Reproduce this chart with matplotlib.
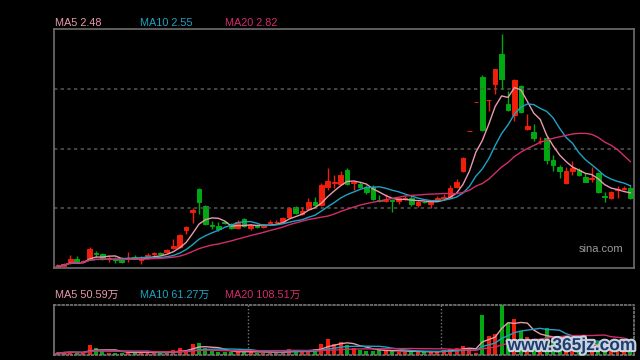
import numpy as np
import pandas as pd
import matplotlib
matplotlib.use("Agg")
from matplotlib import pyplot as plt
from matplotlib import patheffects

plt.rcParams["font.family"] = ["Liberation Sans", "Noto Sans CJK SC", "DejaVu Sans"]

# daily candles (price, yuan)
opens = [1.66, 1.67, 1.71, 1.75, 1.72, 1.75, 1.81, 1.80, 1.75, 1.75,
         1.76, 1.75, 1.77, 1.74, 1.76, 1.80, 1.81, 1.83, 1.87, 1.88,
         2.07, 2.26, 2.52, 2.33, 2.12, 2.11, 2.15, 2.13, 2.09, 2.19,
         2.09, 2.12, 2.10, 2.14, 2.15, 2.16, 2.21, 2.32, 2.24, 2.30,
         2.38, 2.34, 2.54, 2.58, 2.57, 2.73, 2.58, 2.57, 2.54, 2.54,
         2.40, 2.39, 2.40, 2.39, 2.41, 2.42, 2.34, 2.38, 2.35, 2.40,
         2.42, 2.43, 2.54, 2.71, 3.15, 3.47, 3.75, 3.49, 3.67, 4.00,
         3.45, 3.33, 3.65, 3.18, 3.14, 3.04, 3.08, 2.84, 2.76, 2.58,
         2.72, 2.73, 2.65, 2.63, 2.69, 2.44, 2.42, 2.51, 2.52, 2.53]
highs = [1.69, 1.70, 1.79, 1.78, 1.74, 1.88, 1.84, 1.81, 1.78, 1.77,
         1.77, 1.83, 1.79, 1.78, 1.81, 1.83, 1.83, 1.86, 1.97, 2.02,
         2.11, 2.31, 2.53, 2.34, 2.17, 2.16, 2.17, 2.14, 2.18, 2.20,
         2.13, 2.13, 2.13, 2.18, 2.18, 2.21, 2.32, 2.33, 2.32, 2.42,
         2.43, 2.58, 2.75, 2.67, 2.72, 2.75, 2.61, 2.60, 2.56, 2.56,
         2.45, 2.46, 2.41, 2.43, 2.44, 2.45, 2.39, 2.39, 2.39, 2.44,
         2.46, 2.56, 2.63, 2.87, 3.15, 3.47, 3.77, 3.49, 3.84, 4.22,
         3.59, 3.73, 3.66, 3.34, 3.23, 3.09, 3.09, 2.89, 2.78, 2.76,
         2.83, 2.75, 2.69, 2.76, 2.70, 2.48, 2.50, 2.55, 2.55, 2.56]
lows = [1.65, 1.66, 1.69, 1.70, 1.71, 1.74, 1.77, 1.74, 1.72, 1.71,
        1.71, 1.72, 1.75, 1.69, 1.75, 1.78, 1.79, 1.82, 1.86, 1.87,
        2.02, 2.14, 2.24, 2.12, 2.08, 2.06, 2.13, 2.08, 2.08, 2.10,
        2.07, 2.09, 2.09, 2.13, 2.14, 2.15, 2.20, 2.24, 2.23, 2.29,
        2.33, 2.33, 2.51, 2.53, 2.56, 2.56, 2.51, 2.53, 2.46, 2.40,
        2.38, 2.37, 2.26, 2.35, 2.40, 2.33, 2.32, 2.36, 2.31, 2.39,
        2.40, 2.42, 2.53, 2.70, 3.15, 3.47, 3.16, 3.37, 3.56, 3.62,
        3.37, 3.26, 3.35, 3.17, 3.04, 3.01, 2.79, 2.72, 2.64, 2.57,
        2.67, 2.66, 2.59, 2.60, 2.47, 2.38, 2.41, 2.42, 2.51, 2.41]
closes = [1.67, 1.69, 1.75, 1.71, 1.73, 1.86, 1.80, 1.75, 1.76, 1.74,
          1.72, 1.76, 1.76, 1.75, 1.79, 1.81, 1.80, 1.85, 1.89, 2.01,
          2.10, 2.29, 2.37, 2.13, 2.11, 2.08, 2.14, 2.09, 2.16, 2.11,
          2.12, 2.10, 2.12, 2.15, 2.16, 2.20, 2.31, 2.25, 2.28, 2.38,
          2.34, 2.56, 2.61, 2.59, 2.67, 2.57, 2.59, 2.54, 2.49, 2.41,
          2.39, 2.40, 2.39, 2.42, 2.42, 2.35, 2.37, 2.37, 2.38, 2.42,
          2.43, 2.53, 2.60, 2.86, 3.15, 3.47, 3.17, 3.49, 3.84, 3.73,
          3.39, 3.71, 3.36, 3.21, 3.08, 3.05, 2.84, 2.78, 2.71, 2.72,
          2.75, 2.67, 2.60, 2.64, 2.49, 2.43, 2.48, 2.52, 2.53, 2.42]
# volume, 万股
volumes = [15, 20, 24, 18, 15, 73, 49, 29, 18, 18,
           18, 22, 15, 22, 18, 18, 15, 18, 37, 49,
           37, 80, 88, 49, 29, 24, 22, 22, 22, 31,
           22, 18, 18, 18, 18, 22, 44, 29, 26, 37,
           42, 80, 117, 78, 95, 73, 53, 37, 31, 31,
           37, 31, 29, 24, 24, 29, 22, 22, 22, 24,
           37, 44, 49, 68, 49, 17, 292, 139, 153, 365,
           231, 263, 175, 130, 110, 90, 200, 130, 110, 118,
           80, 70, 60, 55, 95, 45, 50, 48, 40, 70]
month_starts = [30, 60]

price_labels = ["MA5 2.48", "MA10 2.55", "MA20 2.82"]
volume_labels = ["MA5 50.59万", "MA10 61.27万", "MA20 108.51万"]
ma_windows = [5, 10, 20]
ma_colors = ["#e99aab", "#1ea3c3", "#d22d6c"]

UP = "#f01e0a"
DOWN = "#00a812"
BORDER = "#6e6e6e"
GRID = "#505050"

df = pd.DataFrame({"open": opens, "high": highs, "low": lows,
                   "close": closes, "vol": volumes})
x = np.arange(len(df))
colors = np.where(df["close"] >= df["open"], UP, DOWN)

fig = plt.figure(figsize=(6.4, 3.6), dpi=100, facecolor="black")
ax = fig.add_axes([0.0844, 0.2556, 0.906, 0.6625], facecolor="black")
axv = fig.add_axes([0.0844, 0.0139, 0.906, 0.139], facecolor="black")

# candles
ax.vlines(x, df["low"], df["high"], colors=colors, linewidth=1)
body_lo = np.minimum(df["open"], df["close"])
body_h = np.abs(df["close"] - df["open"])
ax.bar(x, body_h, bottom=body_lo, width=0.72, color=colors,
       edgecolor=colors, linewidth=0.7)

for w, c in zip(ma_windows, ma_colors):
    ax.plot(x, df["close"].rolling(w, min_periods=1).mean(), color=c, lw=1)
    axv.plot(x, df["vol"].rolling(w, min_periods=1).mean(), color=c, lw=1)

# volume bars
axv.bar(x, df["vol"], width=0.62, color=colors, linewidth=0)

lo, hi = 1.65, 4.27
ax.set_ylim(lo, hi)
ax.set_xlim(-0.52, len(df) - 0.46)
ax.set_yticks([lo + (hi - lo) * f for f in (0.25, 0.5, 0.75)])
ax.grid(axis="y", color=GRID, linestyle=(0, (2, 2)), linewidth=1.2)
ax.tick_params(length=0, labelleft=False, labelbottom=False)
for s in ax.spines.values():
    s.set_color(BORDER)
    s.set_linewidth(1.2)

axv.set_ylim(0, max(volumes))
axv.set_xlim(ax.get_xlim())
axv.set_yticks([])
axv.set_xticks([m - 0.35 for m in month_starts])
axv.grid(axis="x", color="#777777", linestyle=(0, (1, 1.5)), linewidth=1)
axv.tick_params(length=0, labelleft=False, labelbottom=False)
for name, s in axv.spines.items():
    s.set_color("#7a7a7a")
    s.set_linewidth(1.2)
    if name != "left":
        s.set_linestyle((0, (1, 1.5)))

# legends
for i, (t, c) in enumerate(zip(price_labels, ma_colors)):
    fig.text(0.086 + i * 0.133, 0.936, t, color=c, fontsize=7.8, va="center")
for i, (t, c) in enumerate(zip(volume_labels, ma_colors)):
    fig.text(0.086 + i * 0.133, 0.181, t, color=c, fontsize=7.8, va="center")

ax.text(0.982, 0.08, "sina.com", transform=ax.transAxes, color="#9a9a9a",
        fontsize=8, ha="right", va="center")

fig.text(0.993, 0.04, "www.365jz.com", color="#1d3c6e", fontsize=12.5,
         fontweight="bold", ha="right", va="center",
         path_effects=[patheffects.withStroke(linewidth=3, foreground="#c9d2de")])

fig.savefig("out.png", dpi=100, facecolor="black")
